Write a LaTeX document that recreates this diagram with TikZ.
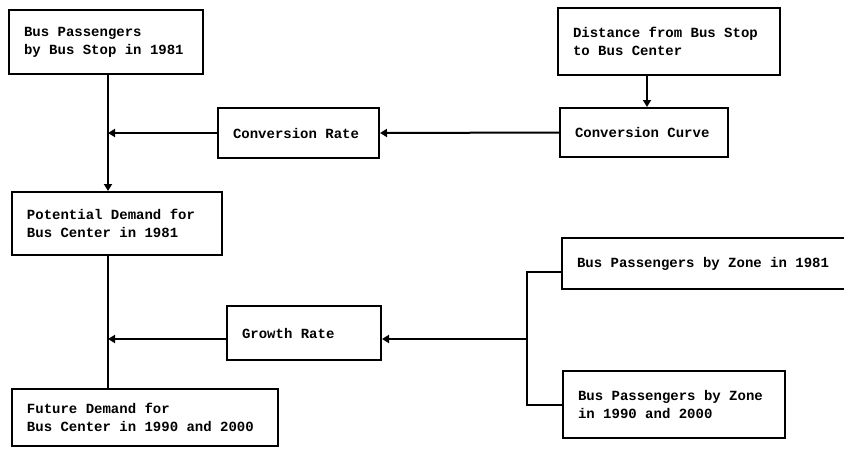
\documentclass[tikz,border=0pt]{standalone}
\usepackage{fontspec}
\setmainfont{Liberation Mono}
\usetikzlibrary{arrows.meta}
\newcommand\fullspacing{\spaceskip=0.6em\relax}
\begin{document}
\begin{tikzpicture}[x=1pt,y=-1pt,
  box/.style={draw, line width=2pt, inner xsep=15pt, inner ysep=0pt, align=left,
    font=\bfseries\fontsize{14}{18}\selectfont, execute at begin node=\fullspacing},
  conn/.style={line width=2pt},
  arr/.style={conn, -{Triangle[length=7pt,width=8pt]}}]
\useasboundingbox (0,0) rectangle (844,455);
\clip (0,0) rectangle (844,455);
\fill[white] (0,0) rectangle (844,455);

\node[box, minimum width=194pt, minimum height=64pt, text width=164pt] (A) at (106,42)
  {Bus Passengers\\by Bus Stop in 1981};
\node[box, minimum width=222pt, minimum height=67pt, text width=192pt] (B) at (669,41.5)
  {Distance from Bus Stop\\to Bus Center};
\node[box, minimum width=161pt, minimum height=50pt, text width=131pt] (C) at (298.5,133)
  {Conversion Rate};
\node[box, minimum width=168pt, minimum height=49pt, text width=138pt] (D) at (644,132.5)
  {Conversion Curve};
\node[box, minimum width=210pt, minimum height=63pt, text width=180pt] (E) at (117,223.5)
  {Potential Demand for\\Bus Center in 1981};
\node[box, minimum width=154pt, minimum height=54pt, text width=124pt] (F) at (304,333)
  {Growth Rate};
\node[box, minimum width=266pt, minimum height=57pt, text width=236pt] (G) at (145,417)
  {Future Demand for\\Bus Center in 1990 and 2000};
\node[box, minimum width=298pt, minimum height=51pt, text width=268pt] (H) at (711,263.5)
  {Bus Passengers by Zone in 1981};
\node[box, minimum width=222pt, minimum height=67pt, text width=192pt] (I) at (674,404.5)
  {Bus Passengers by Zone\\in 1990 and 2000};

\coordinate (v) at (108,0);
\coordinate (w) at (647,0);
\coordinate (hb) at (0,272);
\coordinate (j) at (527,339);

\draw[arr] (A.south -| v) -- (E.north -| v);
\draw[arr] (C.west) -- (C.west -| v);
\draw[arr] (D.west) -- (C.east);
\draw[arr] (B.south -| w) -- (D.north -| w);
\draw[conn] (E.south -| v) -- (G.north -| v);
\draw[arr] (F.west |- j) -- (v |- j);
\draw[conn] (H.west |- hb) -| (j) |- (I.west);
\draw[arr] (j) -- (F.east |- j);
\end{tikzpicture}
\end{document}
